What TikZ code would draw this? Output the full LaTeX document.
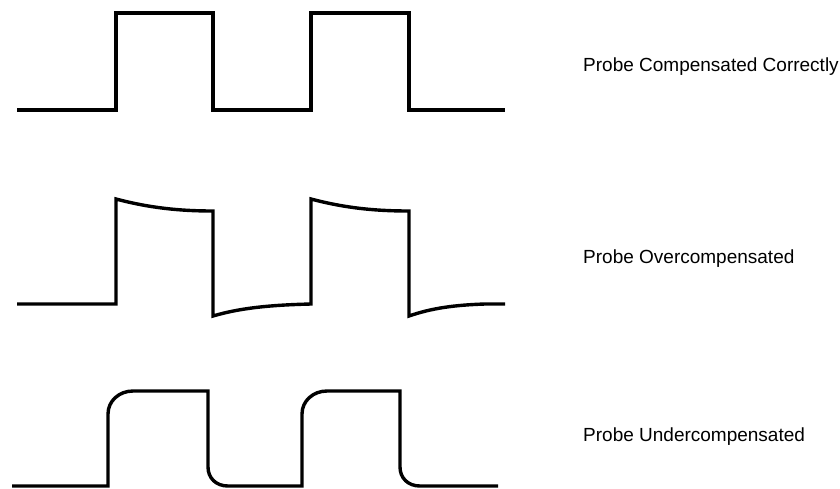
\documentclass[tikz,border=0pt]{standalone}
\usepackage{fontspec}
\setmainfont{Liberation Sans}
\begin{document}
\begin{tikzpicture}[
    x=1pt,
    y=-1pt,
    trace/.style={line width=3.4pt, line join=miter, line cap=butt},
    caption/.style={anchor=west, inner sep=0pt, font=\fontsize{19}{21}\selectfont}
  ]
    \useasboundingbox (0,0) rectangle (840,488);

    % --- Compensada correctamente ---
    \draw[trace] (17,110) -- (116,110) -- (116,13) -- (213,13) -- (213,110)
      -- (311,110) -- (311,13) -- (409,13) -- (409,110) -- (505,110);
    \node[caption] (correct) at (583,67) {Probe Compensated Correctly};

    % --- Sobrecompensada ---
    \draw[trace] (17,304) -- (116,304) -- (116,199)
      .. controls (150,208) and (180,211) .. (213,211) -- (213,316)
      .. controls (240,308) and (270,305) .. (311,304) -- (311,199)
      .. controls (345,208) and (375,211) .. (409,211) -- (409,316)
      .. controls (432,308) and (455,305) .. (485,304) -- (505,304);
    \node[caption] (over) at (583,259) {Probe Overcompensated};

    % --- Subcompensada ---
    \draw[trace] (12,486) -- (108,486) -- (108,414)
      .. controls (108,401) and (119,391) .. (133,391) -- (208,391) -- (208,467)
      .. controls (208,478) and (216,486) .. (228,486) -- (302,486) -- (302,414)
      .. controls (302,401) and (313,391) .. (327,391) -- (400,391) -- (400,467)
      .. controls (400,478) and (408,486) .. (420,486) -- (498,486);
    \node[caption] (under) at (583,437) {Probe Undercompensated};
  \end{tikzpicture}
\end{document}
